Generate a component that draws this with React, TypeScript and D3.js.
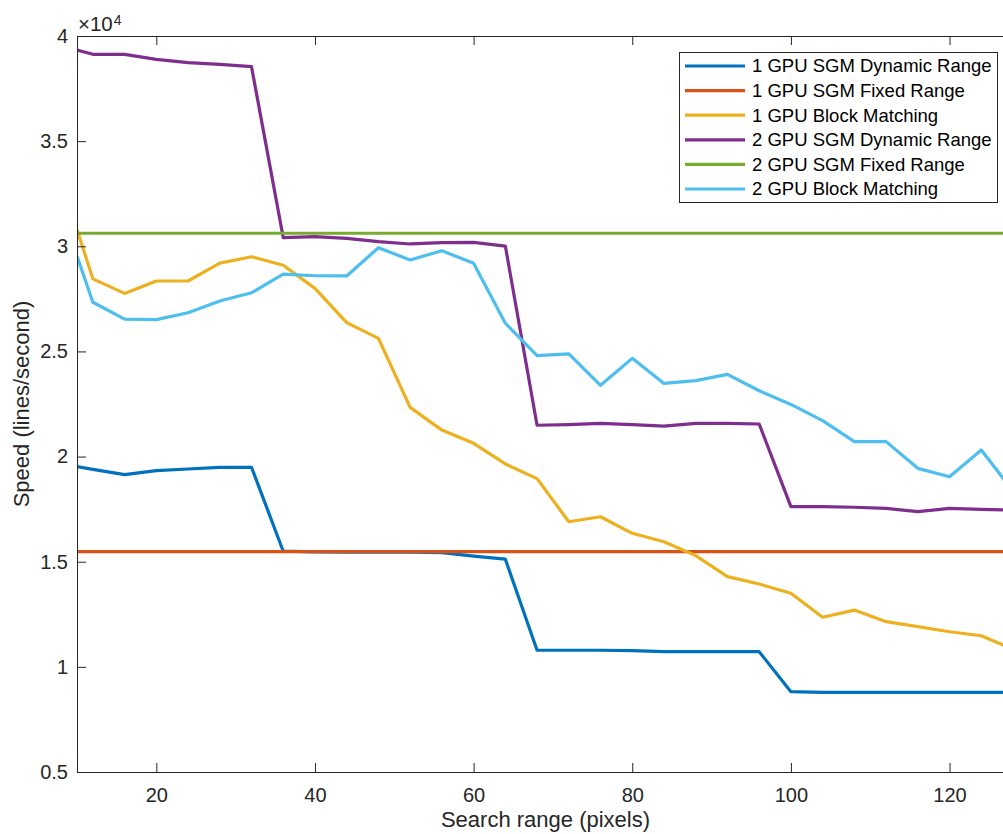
import * as d3 from 'd3';
import { useEffect, useRef } from 'react';

// search range (pixels)
const searchRange = [10, 12, 16, 20, 24, 28, 32, 36, 40, 44, 48, 52, 56, 60, 64, 68, 72, 76, 80, 84, 88, 92, 96, 100, 104, 108, 112, 116, 120, 124, 128];

// speeds in lines/second
const gpu1SgmDynamic = [19520, 19390, 19140, 19330, 19410, 19490, 19490, 15500, 15470, 15460, 15460, 15450, 15430, 15270, 15120, 10790, 10790, 10790, 10770, 10720, 10720, 10720, 10720, 8820, 8790, 8790, 8790, 8790, 8790, 8790, 8790];
const gpu1SgmFixed = [15480, 15480, 15480, 15480, 15480, 15480, 15480, 15480, 15480, 15480, 15480, 15480, 15480, 15480, 15480, 15480, 15480, 15480, 15480, 15480, 15480, 15480, 15480, 15480, 15480, 15480, 15480, 15480, 15480, 15480, 15480];
const gpu1Block = [30800, 28450, 27760, 28350, 28350, 29200, 29500, 29100, 28000, 26370, 25620, 22340, 21260, 20630, 19650, 18950, 16900, 17140, 16350, 15950, 15290, 14290, 13940, 13500, 12360, 12700, 12150, 11910, 11670, 11480, 10830];
const gpu2SgmDynamic = [39330, 39130, 39130, 38890, 38730, 38650, 38540, 30410, 30460, 30380, 30220, 30110, 30170, 30190, 30010, 21490, 21520, 21580, 21520, 21450, 21580, 21580, 21550, 17620, 17620, 17590, 17540, 17380, 17540, 17490, 17460];
const gpu2SgmFixed = [30620, 30620, 30620, 30620, 30620, 30620, 30620, 30620, 30620, 30620, 30620, 30620, 30620, 30620, 30620, 30620, 30620, 30620, 30620, 30620, 30620, 30620, 30620, 30620, 30620, 30620, 30620, 30620, 30620, 30620, 30620];
const gpu2Block = [29540, 27340, 26540, 26510, 26840, 27400, 27790, 28680, 28600, 28590, 29930, 29350, 29790, 29190, 26340, 24800, 24880, 23390, 24670, 23480, 23610, 23910, 23130, 22480, 21710, 20710, 20710, 19440, 19040, 20310, 18360];

const seriesNames = ['1 GPU SGM Dynamic Range', '1 GPU SGM Fixed Range', '1 GPU Block Matching', '2 GPU SGM Dynamic Range', '2 GPU SGM Fixed Range', '2 GPU Block Matching'];
const seriesColors = ['#0072BD', '#D95319', '#EDB120', '#7E2F8E', '#77AC30', '#4DBEEE'];
const seriesValues = [gpu1SgmDynamic, gpu1SgmFixed, gpu1Block, gpu2SgmDynamic, gpu2SgmFixed, gpu2Block];

const xTicks = [20, 40, 60, 80, 100, 120];
const yTicks = [5000, 10000, 15000, 20000, 25000, 30000, 35000, 40000];

export default function App() {
    const ref = useRef<HTMLDivElement>(null);

    useEffect(() => {
        const width = 1003;
        const height = 834;
        const plot = { left: 77, top: 36, right: 1013, bottom: 772 };
        const axisColor = '#262626';
        const font = 'Arial, "Liberation Sans", Helvetica, sans-serif';
        const tickLen = 9;
        const tickFont = 20;
        const titleFont = 22;

        ref.current!.innerHTML = '';
        const svg = d3
            .select(ref.current)
            .append('svg')
            .attr('width', width)
            .attr('height', height)
            .style('display', 'block')
            .style('background', '#fff');

        const x = d3.scaleLinear().domain([10, 128]).range([plot.left, plot.right]);
        const y = d3.scaleLinear().domain([5000, 40000]).range([plot.bottom, plot.top]);

        svg.append('defs').append('clipPath').attr('id', 'plotClip')
            .append('rect')
            .attr('x', plot.left).attr('y', plot.top)
            .attr('width', plot.right - plot.left).attr('height', plot.bottom - plot.top);

        // lines
        const line = d3.line<number>()
            .x((_, i) => x(searchRange[i]))
            .y(d => y(d));

        const lines = svg.append('g').attr('clip-path', 'url(#plotClip)');
        seriesValues.forEach((vals, i) => {
            lines.append('path')
                .attr('d', line(vals))
                .attr('fill', 'none')
                .attr('stroke', seriesColors[i])
                .attr('stroke-width', 3.2)
                .attr('stroke-linejoin', 'round');
        });

        // axes (ticks point inward, box on)
        const styleAxis = (g: any) => {
            g.select('.domain').remove();
            g.selectAll('line').attr('stroke', axisColor);
            g.selectAll('text')
                .attr('fill', axisColor)
                .attr('font-family', font)
                .attr('font-size', tickFont);
        };

        svg.append('g')
            .attr('transform', `translate(0,${plot.bottom})`)
            .call(d3.axisBottom(x).tickValues(xTicks).tickSize(-tickLen).tickPadding(16).tickFormat(d3.format('d')))
            .call(styleAxis);

        svg.append('g')
            .attr('transform', `translate(0,${plot.top})`)
            .call(d3.axisTop(x).tickValues(xTicks).tickSize(-tickLen).tickFormat(() => ''))
            .call(styleAxis);

        svg.append('g')
            .attr('transform', `translate(${plot.left},0)`)
            .call(d3.axisLeft(y).tickValues(yTicks).tickSize(-tickLen).tickPadding(9).tickFormat(d => String(+d / 10000)))
            .call(styleAxis);

        svg.append('rect')
            .attr('x', plot.left + 0.5)
            .attr('y', plot.top + 0.5)
            .attr('width', plot.right - plot.left)
            .attr('height', plot.bottom - plot.top)
            .attr('fill', 'none')
            .attr('stroke', axisColor)
            .attr('stroke-width', 1);

        // exponent label
        const expo = svg.append('text')
            .attr('x', 78)
            .attr('y', 31)
            .attr('font-family', font)
            .attr('font-size', 20.5)
            .attr('fill', axisColor);
        expo.append('tspan').text('\u00d710');
        expo.append('tspan').attr('dx', 1).attr('dy', -6).attr('font-size', 14).text('4');

        // axis titles
        svg.append('text')
            .attr('x', 545.5)
            .attr('y', 827)
            .attr('text-anchor', 'middle')
            .attr('font-family', font)
            .attr('font-size', titleFont)
            .attr('fill', axisColor)
            .text('Search range (pixels)');

        svg.append('text')
            .attr('transform', `translate(28.5,${(plot.top + plot.bottom) / 2}) rotate(-90)`)
            .attr('text-anchor', 'middle')
            .attr('font-family', font)
            .attr('font-size', titleFont)
            .attr('fill', axisColor)
            .text('Speed (lines/second)');

        // legend
        const legend = { x: 679, y: 52, w: 318, h: 150, rowH: 24.6 };
        const lg = svg.append('g');
        lg.append('rect')
            .attr('x', legend.x + 0.5).attr('y', legend.y + 0.5)
            .attr('width', legend.w).attr('height', legend.h)
            .attr('fill', '#fff')
            .attr('stroke', axisColor)
            .attr('stroke-width', 1);

        seriesNames.forEach((name, i) => {
            const cy = 66 + i * legend.rowH;
            lg.append('line')
                .attr('x1', 685).attr('x2', 745)
                .attr('y1', cy).attr('y2', cy)
                .attr('stroke', seriesColors[i])
                .attr('stroke-width', 3.2);
            lg.append('text')
                .attr('x', 752)
                .attr('y', cy)
                .attr('dy', '0.35em')
                .attr('font-family', font)
                .attr('font-size', 18.5)
                .attr('fill', '#000')
                .text(name);
        });
    }, []);

    return (
        <div style={{ position: 'absolute', left: 0, top: 0, width: 1003, height: 834, overflow: 'hidden' }}>
            <div ref={ref}></div>
        </div>
    );
}
